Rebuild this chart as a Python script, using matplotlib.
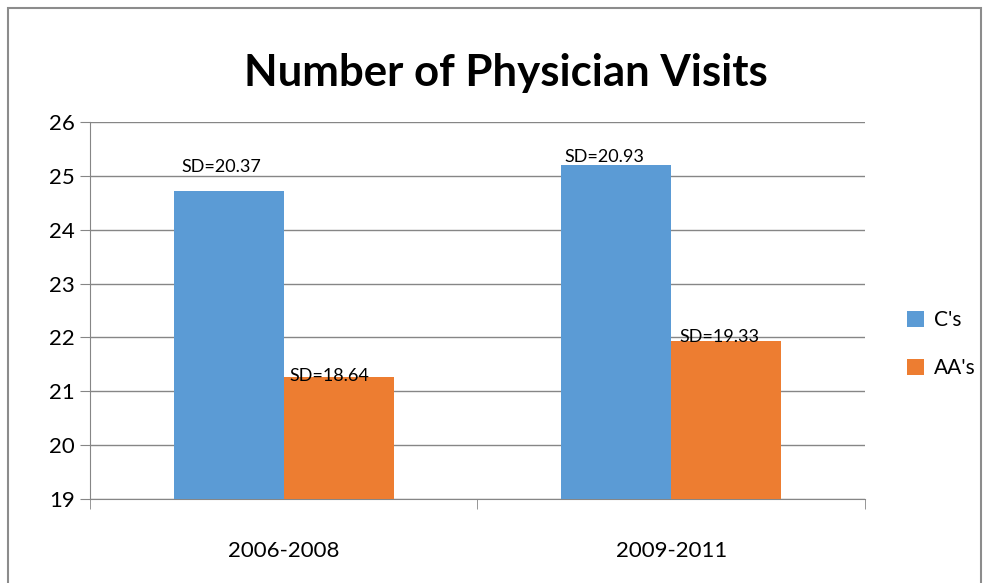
import matplotlib
matplotlib.use("Agg")
import matplotlib.pyplot as plt
import numpy as np
from matplotlib.patches import Rectangle

periods = ["2006-2008", "2009-2011"]
series_names = ["C's", "AA's"]
c_values = [24.72, 25.21]
aa_values = [21.27, 21.93]
c_sd = ["SD=20.37", "SD=20.93"]
aa_sd = ["SD=18.64", "SD=19.33"]

colors = ["#5B9BD5", "#ED7D31"]
grid_grey = "#868686"

plt.rcParams['font.family'] = ['Lato', 'DejaVu Sans']

fig = plt.figure(figsize=(9.92, 5.83), dpi=100)
ax = fig.add_axes([0.0907, 0.1441, 0.7813, 0.6467])

x = np.arange(len(periods))
w = 0.284
bars_c = ax.bar(x - w / 2, c_values, w, color=colors[0], label=series_names[0], zorder=3)
bars_aa = ax.bar(x + w / 2, aa_values, w, color=colors[1], label=series_names[1], zorder=3)

# data labels (Excel placement, slightly off-centre)
c_offsets = [(-7, 16), (-12, 0)]
aa_offsets = [(-9, -7), (-7, -4)]
for bar, txt, off in zip(bars_c, c_sd, c_offsets):
    ax.annotate(txt, (bar.get_x() + bar.get_width() / 2, bar.get_height()),
                xytext=off, textcoords="offset pixels", ha="center", va="bottom",
                fontsize=13, zorder=5)
for bar, txt, off in zip(bars_aa, aa_sd, aa_offsets):
    ax.annotate(txt, (bar.get_x() + bar.get_width() / 2, bar.get_height()),
                xytext=off, textcoords="offset pixels", ha="center", va="bottom",
                fontsize=13, zorder=5)

ax.set_xlim(-0.5, len(periods) - 0.5)
ax.set_ylim(19, 26)
ax.set_yticks(range(19, 27))
ax.yaxis.grid(True, color=grid_grey, linewidth=1, zorder=0)
ax.set_axisbelow(True)

ax.set_xticks(x)
ax.set_xticklabels(periods, fontsize=16)
ax.set_xticks(np.arange(-0.5, len(periods)), minor=True)
ax.tick_params(axis="x", which="major", length=0, pad=30)
ax.tick_params(axis="x", which="minor", length=7, color=grid_grey, direction="out")
ax.tick_params(axis="y", length=7, color=grid_grey, labelsize=16, pad=4)

for s in ["top", "right"]:
    ax.spines[s].set_visible(False)
for s in ["left", "bottom"]:
    ax.spines[s].set_color(grid_grey)

ax.set_title("Number of Physician Visits", fontsize=31.5, fontweight="bold", pad=26, x=0.537)

ax.legend(loc="center left", bbox_to_anchor=(1.03, 0.41), frameon=False,
          fontsize=15, handlelength=0.8, handleheight=0.8, labelspacing=1.35,
          handletextpad=0.5)

fig.patches.append(Rectangle((0.008, -0.01), 0.981, 0.997, transform=fig.transFigure,
                             fill=False, edgecolor="#8c8c8c", linewidth=1.5))

fig.savefig("out.png", dpi=100)
